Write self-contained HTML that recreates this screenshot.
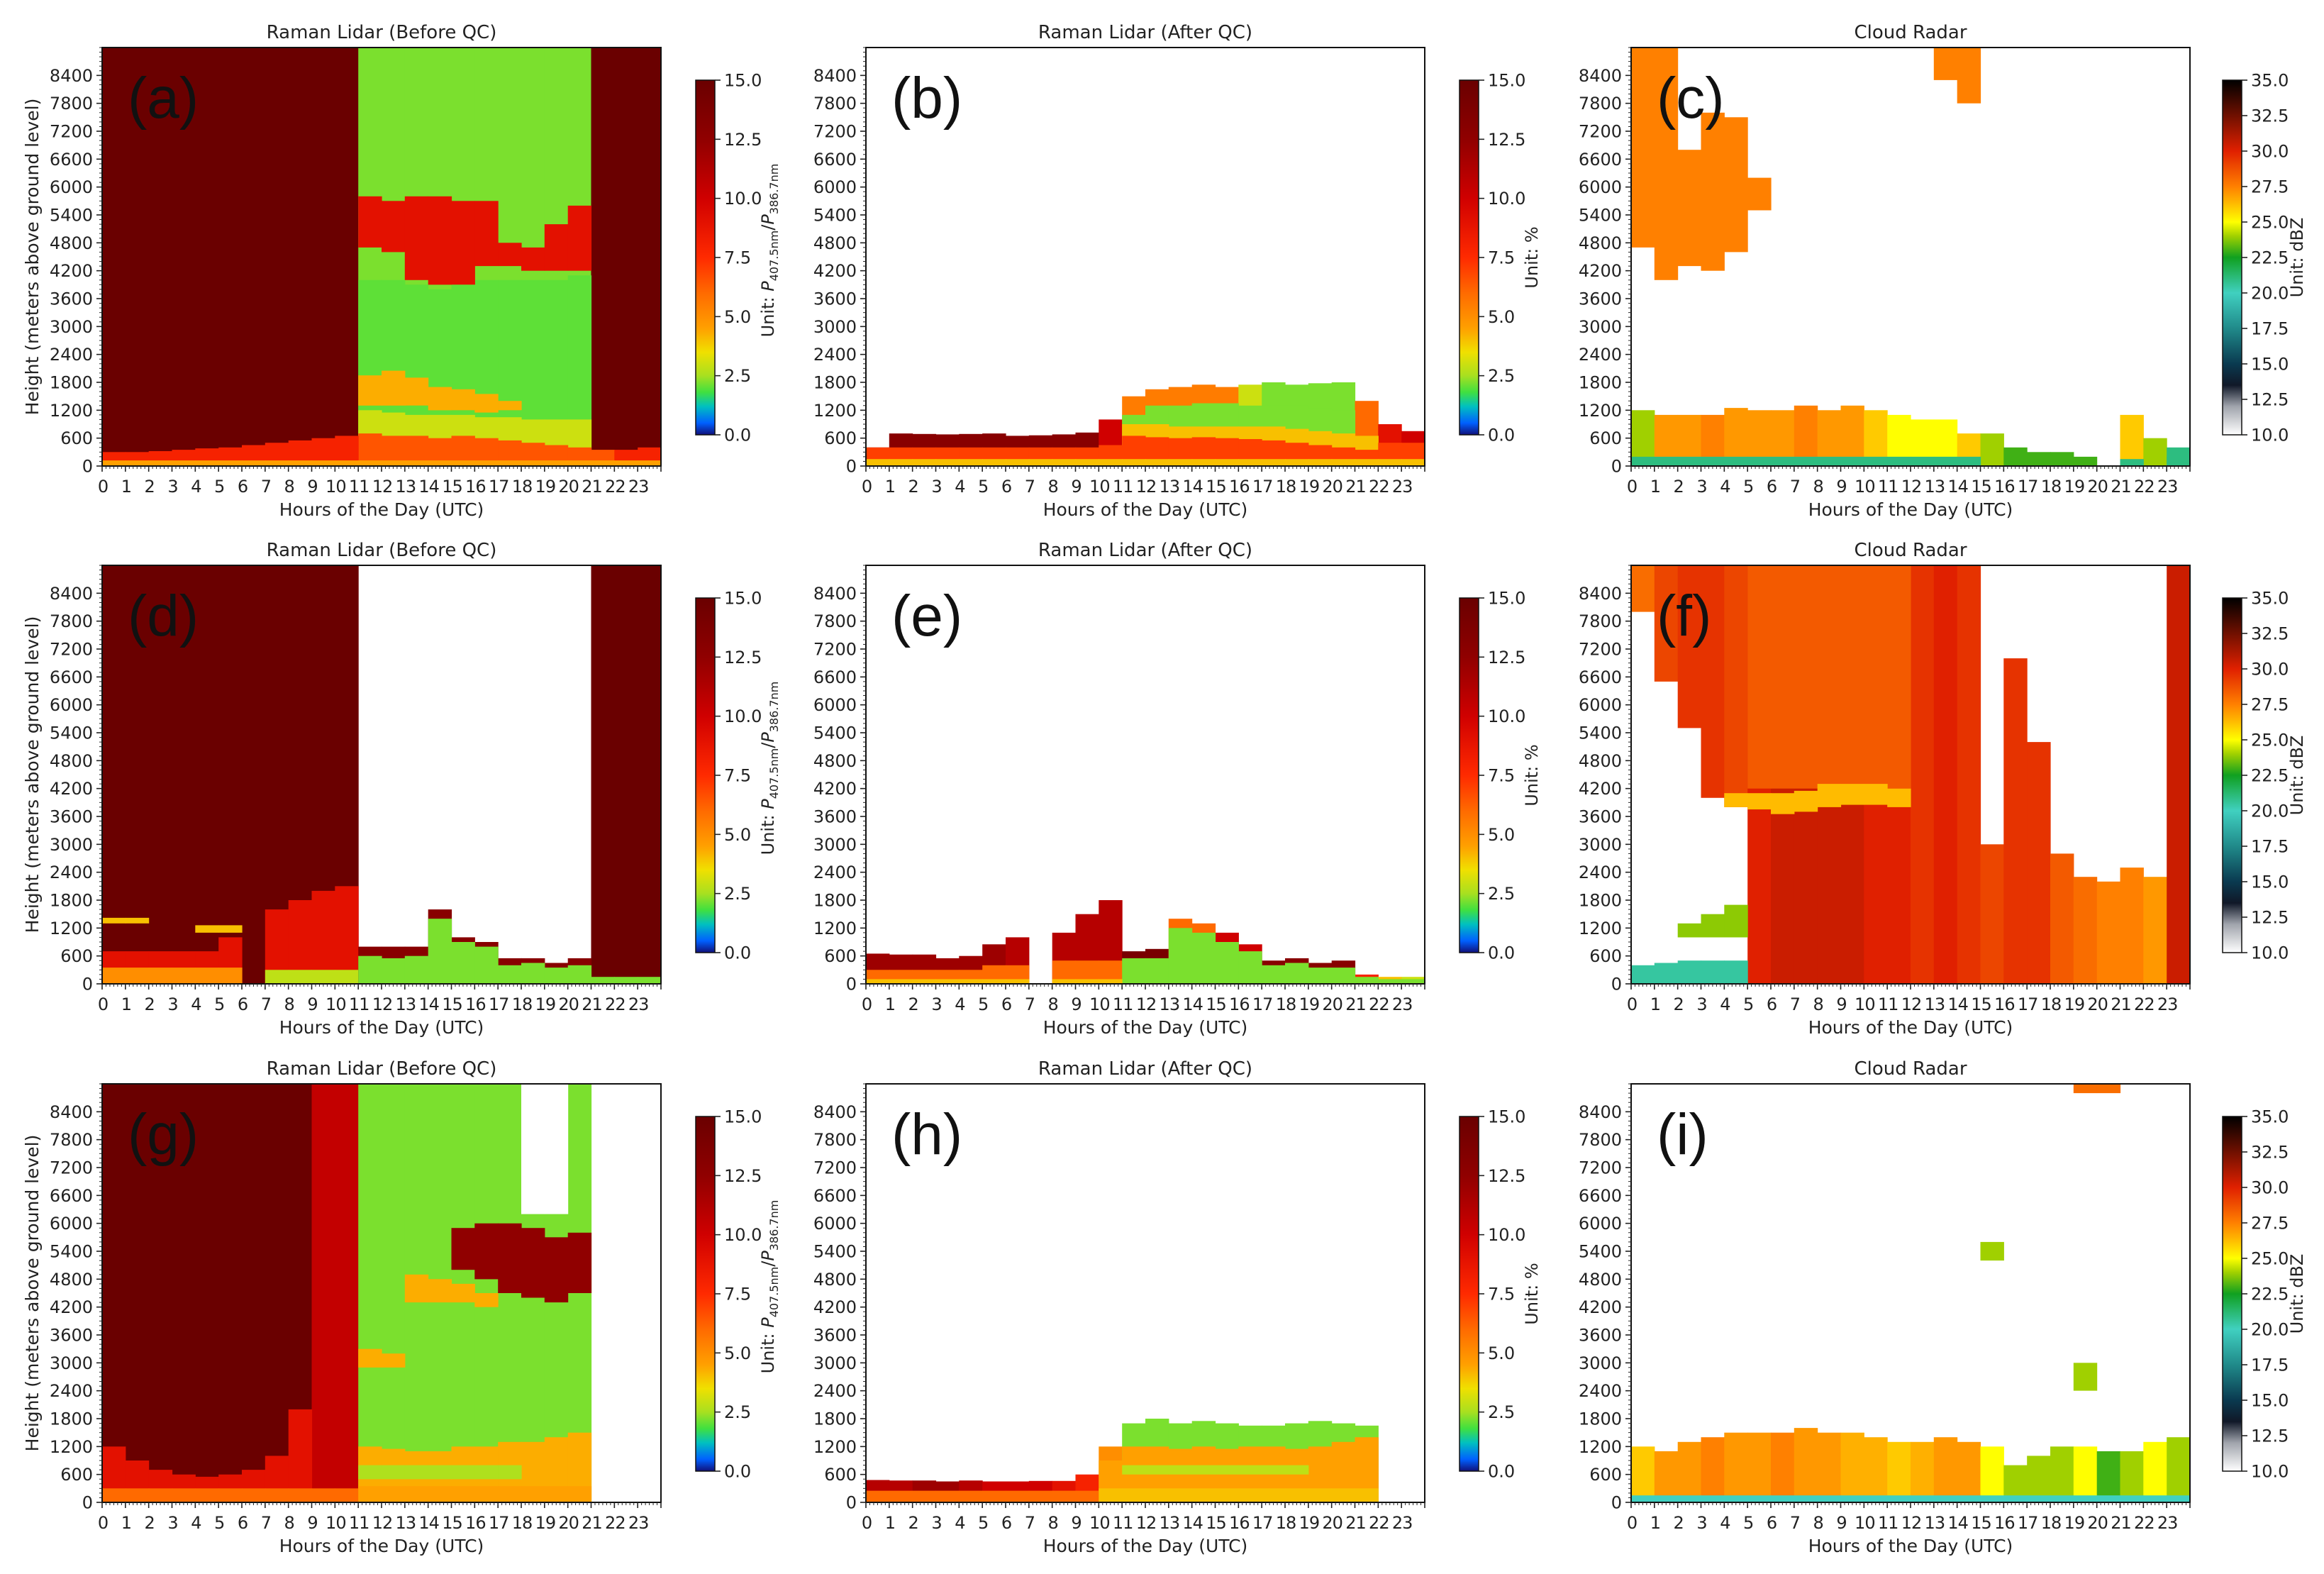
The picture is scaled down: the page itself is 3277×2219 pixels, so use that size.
<!DOCTYPE html>
<html><head><meta charset="utf-8"><title>Raman Lidar vs Cloud Radar</title>
<style>
html,body{margin:0;padding:0;background:#fff;}
svg{display:block;font-family:"DejaVu Sans","Liberation Sans",sans-serif;}
</style></head>
<body>
<svg id="fig" width="3277" height="2219" viewBox="0 0 3277 2219" xmlns="http://www.w3.org/2000/svg"></svg>
<script>
// ---------- data (hourly columns, index = hour 0..23; N = no data) ----------
const N = null;
const yTicks = [0,600,1200,1800,2400,3000,3600,4200,4800,5400,6000,6600,7200,7800,8400];
const xTicks = [0,1,2,3,4,5,6,7,8,9,10,11,12,13,14,15,16,17,18,19,20,21,22,23];
const lidarCbTicks = [0,2.5,5,7.5,10,12.5,15];
const radarCbTicks = [10,12.5,15,17.5,20,22.5,25,27.5,30,32.5,35];
const panelLetters = ["(a)","(b)","(c)","(d)","(e)","(f)","(g)","(h)","(i)"];
const panelTitles = ["Raman Lidar (Before QC)","Raman Lidar (After QC)","Cloud Radar"];

// Panel a
const aL1Hi = [9000,9000,9000,9000,9000,9000,9000,9000,9000,9000,9000,9000,9000,9000,9000,9000,9000,9000,9000,9000,9000,9000,9000,9000];
const aL1V  = [15,15,15,15,15,15,15,15,15,15,15,2.2,2.2,2.2,2.2,2.2,2.2,2.2,2.2,2.2,2.2,15,15,15];
const aL2Lo = [N,N,N,N,N,N,N,N,N,N,N,4700,4600,4000,3900,3900,4300,4300,4200,4200,4200,N,N,N];
const aL2Hi = [N,N,N,N,N,N,N,N,N,N,N,5800,5700,5800,5800,5700,5700,4800,4700,5200,5600,N,N,N];
const aL3Hi = [N,N,N,N,N,N,N,N,N,N,N,4000,4000,3900,3800,3900,4000,4000,4000,4000,4100,N,N,N];
const aL4Lo = [N,N,N,N,N,N,N,N,N,N,N,1300,1300,1300,1200,1200,1150,1200,N,N,N,N,N,N];
const aL4Hi = [N,N,N,N,N,N,N,N,N,N,N,1950,2050,1900,1700,1650,1550,1400,N,N,N,N,N,N];
const aL5Hi = [N,N,N,N,N,N,N,N,N,N,N,1200,1150,1100,1100,1100,1050,1050,1000,1000,1000,N,N,N];
const aL6Hi = [N,N,N,N,N,N,N,N,N,N,N,700,650,650,600,650,600,550,500,450,400,350,N,N];
const aL7Hi = [300,300,320,350,380,400,450,500,550,600,650,N,N,N,N,N,N,N,N,N,N,N,350,400];
const aL8Hi = [120,120,120,120,120,120,120,120,120,120,120,120,120,120,120,120,120,120,120,120,120,120,120,120];

// Panel b
const bL1Hi = [400,700,690,680,690,700,650,660,680,720,1000,1500,1650,1700,1750,1700,1750,1800,1750,1780,1800,1400,900,750];
const bL1V  = [13,13,13,13,13,13,13,13,13,13,10,5.5,5.5,5.5,5.5,5.5,3,2.2,2.2,2.2,2.2,6,9,10];
const bL2Hi = [N,N,N,N,N,N,N,N,N,N,N,1100,1300,1300,1350,1350,1300,1300,1300,1250,1200,N,N,N];
const bL3Hi = [N,N,N,N,N,N,N,N,N,N,N,900,900,850,850,850,850,850,800,750,700,650,N,N];
const bL4Hi = [400,400,400,400,400,400,400,400,400,400,450,650,620,600,620,600,580,550,500,450,400,350,500,500];
const bL5Hi = [150,150,150,150,150,150,150,150,150,150,150,150,150,150,150,150,150,150,150,150,150,150,150,150];

// Panel c
const cL1Lo = [4700,4000,4300,4200,4600,5500,N,N,N,N,N,N,N,N,N,N,N,N,N,N,N,N,N,N];
const cL1Hi = [9000,9000,6800,7600,7500,6200,N,N,N,N,N,N,N,N,N,N,N,N,N,N,N,N,N,N];
const cL2Lo = [N,N,N,N,N,N,N,N,N,N,N,N,N,8300,7800,N,N,N,N,N,N,N,N,N];
const cL2Hi = [N,N,N,N,N,N,N,N,N,N,N,N,N,9000,9000,N,N,N,N,N,N,N,N,N];
const cL3Hi = [1200,1100,1100,1100,1250,1200,1200,1300,1200,1300,1200,1100,1000,1000,700,700,400,300,300,200,N,1100,600,400];
const cL3V  = [24,27,27,27.5,27,27,27,27.5,27,27,26,25,25,25,26,24,23,23,23,23,23,26,24,21];
const cL4Hi = [200,200,200,200,200,200,200,200,200,200,200,200,200,200,200,N,N,N,N,N,N,150,N,200];

// Panel d
const dL1V  = [15,15,15,15,15,15,15,15,15,15,15,N,N,N,N,N,N,N,N,N,N,15,15,15];
const dL2Hi = [700,700,700,700,700,1000,N,1600,1800,2000,2100,N,N,N,N,N,N,N,N,N,N,N,N,N];
const dL3Hi = [350,350,350,350,350,350,N,300,300,300,300,N,N,N,N,N,N,N,N,N,N,N,N,N];
const dL3V  = [5,5,5,5,5,5,N,2.8,2.8,2.8,2.8,N,N,N,N,N,N,N,N,N,N,N,N,N];
const dL4Lo = [1300,1300,N,N,1100,1100,N,N,N,N,N,N,N,N,N,N,N,N,N,N,N,N,N,N];
const dL4Hi = [1420,1420,N,N,1260,1260,N,N,N,N,N,N,N,N,N,N,N,N,N,N,N,N,N,N];
const dL5Hi = [N,N,N,N,N,N,N,N,N,N,N,800,800,800,1600,1000,900,550,550,450,550,N,N,N];
const dL6Hi = [N,N,N,N,N,N,N,N,N,N,N,600,550,600,1400,900,800,400,450,350,400,150,150,150];

// Panel e
const eL1Hi = [650,630,630,550,600,850,1000,N,1100,1500,1800,700,750,1400,1300,1100,850,500,550,450,500,200,150,150];
const eL1V  = [12,12,12,12,12,12,11,N,11,11,11,14,14,6,6,10,10,13,13,13,13,8,4,3];
const eL2Hi = [300,300,300,300,300,400,400,N,500,500,500,N,N,N,N,N,N,N,N,N,N,N,N,N];
const eL3Hi = [N,N,N,N,N,N,N,N,N,N,N,550,550,1200,1100,900,700,400,450,350,350,150,100,100];
const eL4Hi = [100,100,100,100,100,100,100,N,100,100,100,N,N,N,N,N,N,N,N,N,N,N,N,N];

// Panel f
const fL1Lo = [8000,6500,5500,4000,3800,0,0,0,0,0,0,0,0,0,0,0,0,0,0,0,0,0,0,0];
const fL1Hi = [9000,9000,9000,9000,9000,9000,9000,9000,9000,9000,9000,9000,9000,9000,9000,3000,7000,5200,2800,2300,2200,2500,2300,9000];
const fL1V  = [28,29,29.5,29.5,29,30,30.5,30.5,30.5,30.5,30,30,29.5,30,29.5,29,29.5,29.5,28.5,28,27.5,27.5,27,30.5];
const fL2Lo = [N,N,N,N,N,4200,4200,4200,4200,4200,4200,4200,N,N,N,N,N,N,N,N,N,N,N,N];
const fL2Hi = [N,N,N,N,N,9000,9000,9000,9000,9000,9000,9000,N,N,N,N,N,N,N,N,N,N,N,N];
const fL3Lo = [N,N,N,N,3800,3750,3650,3700,3800,3850,3850,3800,N,N,N,N,N,N,N,N,N,N,N,N];
const fL3Hi = [N,N,N,N,4100,4100,4100,4150,4300,4300,4300,4200,N,N,N,N,N,N,N,N,N,N,N,N];
const fL4Hi = [400,450,500,500,500,N,N,N,N,N,N,N,N,N,N,N,N,N,N,N,N,N,N,N];
const fL5Lo = [N,N,1000,1000,1000,N,N,N,N,N,N,N,N,N,N,N,N,N,N,N,N,N,N,N];
const fL5Hi = [N,N,1300,1500,1700,N,N,N,N,N,N,N,N,N,N,N,N,N,N,N,N,N,N,N];

// Panel g
const gL1V  = [15,15,15,15,15,15,15,15,15,10.5,10.5,2.2,2.2,2.2,2.2,2.2,2.2,2.2,2.2,2.2,2.2,N,N,N];
const gL2Hi = [1200,900,700,600,550,600,700,1000,2000,N,N,N,N,N,N,N,N,N,N,N,N,N,N,N];
const gL3Lo = [N,N,N,N,N,N,N,N,N,N,N,N,N,N,N,N,N,N,6200,6200,N,N,N,N];
const gL4Lo = [N,N,N,N,N,N,N,N,N,N,N,N,N,N,N,5000,4800,4500,4400,4300,4500,N,N,N];
const gL4Hi = [N,N,N,N,N,N,N,N,N,N,N,N,N,N,N,5900,6000,6000,5900,5700,5800,N,N,N];
const gL5Lo = [N,N,N,N,N,N,N,N,N,N,N,2900,2900,4300,4300,4300,4200,N,N,N,N,N,N,N];
const gL5Hi = [N,N,N,N,N,N,N,N,N,N,N,3300,3200,4900,4800,4700,4500,N,N,N,N,N,N,N];
const gL6Hi = [N,N,N,N,N,N,N,N,N,N,N,1200,1150,1100,1100,1200,1200,1300,1300,1400,1500,N,N,N];
const gL7Lo = [N,N,N,N,N,N,N,N,N,N,N,500,500,500,500,500,500,500,N,N,N,N,N,N];
const gL7Hi = [N,N,N,N,N,N,N,N,N,N,N,800,800,800,800,800,800,800,N,N,N,N,N,N];
const gL8Hi = [300,300,300,300,300,300,300,300,300,300,300,350,350,350,350,350,350,350,350,350,350,N,N,N];
const gL8V  = [6,6,6,6,6,6,6,6,6,6,6,4.5,4.5,4.5,4.5,4.5,4.5,4.5,4.5,4.5,4.5,N,N,N];

// Panel h
const hL1Hi = [480,470,470,450,470,450,450,460,460,600,1200,1700,1800,1700,1750,1700,1650,1650,1700,1750,1700,1650,N,N];
const hL1V  = [11,11,12,12,11,10,10,10,9,8,5,2.2,2.2,2.2,2.2,2.2,2.2,2.2,2.2,2.2,2.2,2.2,N,N];
const hL2Hi = [N,N,N,N,N,N,N,N,N,N,900,1200,1200,1150,1200,1150,1200,1200,1150,1200,1300,1400,N,N];
const hL3Lo = [N,N,N,N,N,N,N,N,N,N,N,600,600,600,600,600,600,600,600,N,N,N,N,N];
const hL3Hi = [N,N,N,N,N,N,N,N,N,N,N,800,800,800,800,800,800,800,800,N,N,N,N,N];
const hL4Hi = [250,250,250,250,250,250,250,250,250,250,300,300,300,300,300,300,300,300,300,300,300,300,N,N];
const hL4V  = [6,6,6,6,6,6,6,6,6,6,4,4,4,4,4,4,4,4,4,4,4,4,N,N];

// Panel i
const iL1Hi = [1200,1100,1300,1400,1500,1500,1500,1600,1500,1500,1400,1300,1300,1400,1300,1200,800,1000,1200,1200,1100,1100,1300,1400];
const iL1V  = [26,27,27,27.5,27,27,27.5,27,27,26.5,26.5,26,26.5,27,27,25,24,24,24,25,23,24,25,24];
const iL2Hi = [150,150,150,150,150,150,150,150,150,150,150,150,150,150,150,150,150,150,150,150,150,150,150,150];
const iL4Lo = [N,N,N,N,N,N,N,N,N,N,N,N,N,N,N,N,N,N,N,8800,8800,N,N,N];
const iL4Hi = [N,N,N,N,N,N,N,N,N,N,N,N,N,N,N,N,N,N,N,9000,9000,N,N,N];
const iL5Lo = [N,N,N,N,N,N,N,N,N,N,N,N,N,N,N,5200,N,N,N,2400,N,N,N,N];
const iL5Hi = [N,N,N,N,N,N,N,N,N,N,N,N,N,N,N,5600,N,N,N,3000,N,N,N,N];

// wiring: [lo, hi, value] per layer, drawn in order
const layersA = [[0,aL1Hi,aL1V],[0,aL3Hi,2.0],[aL2Lo,aL2Hi,9],[0,aL5Hi,3.0],[aL4Lo,aL4Hi,4.3],[0,aL6Hi,6.5],[0,aL7Hi,8],[0,aL8Hi,4.5]];
const layersB = [[0,bL1Hi,bL1V],[0,bL2Hi,2.2],[0,bL3Hi,4],[0,bL4Hi,7],[0,bL5Hi,4]];
const layersC = [[cL1Lo,cL1Hi,27.5],[cL2Lo,cL2Hi,27.5],[0,cL3Hi,cL3V],[0,cL4Hi,21]];
const layersD = [[0,aL1Hi,dL1V],[0,dL2Hi,9],[0,dL3Hi,dL3V],[dL4Lo,dL4Hi,4],[0,dL5Hi,13],[0,dL6Hi,2.2]];
const layersE = [[0,eL1Hi,eL1V],[0,eL2Hi,6],[0,eL3Hi,2.2],[0,eL4Hi,4]];
const layersF = [[fL1Lo,fL1Hi,fL1V],[fL2Lo,fL2Hi,28.5],[fL3Lo,fL3Hi,26.3],[0,fL4Hi,20.5],[fL5Lo,fL5Hi,23.8]];
const layersG = [[0,aL1Hi,gL1V],[0,gL2Hi,9],[gL3Lo,aL1Hi,'w'],[gL4Lo,gL4Hi,12.5],[gL5Lo,gL5Hi,4.3],[0,gL6Hi,4.3],[gL7Lo,gL7Hi,2.6],[0,gL8Hi,gL8V]];
const layersH = [[0,hL1Hi,hL1V],[0,hL2Hi,4.5],[hL3Lo,hL3Hi,2.8],[0,hL4Hi,hL4V]];
const layersI = [[0,iL1Hi,iL1V],[0,iL2Hi,20],[iL4Lo,iL4Hi,28],[iL5Lo,iL5Hi,24]];

// ---------- layout / colormaps ----------
const colX = [144,1221,2300], rowY = [67,797,1528], PW = 788, PH = 590, YMAX = 9000;
const lidarStops = [[0,'#10107a'],[0.5,'#0060ff'],[1.2,'#00c0c0'],[1.8,'#40e040'],[2.5,'#a8e020'],[3.5,'#f0e000'],[4.5,'#ffa000'],[6,'#ff6a00'],[7.5,'#ff2a00'],[10,'#d00000'],[12.5,'#900000'],[15,'#6a0000']];
const radarStops = [[10,'#ffffff'],[12,'#a0a4ac'],[13.5,'#101828'],[15,'#0a3a50'],[17.5,'#208a8a'],[20,'#40d0c0'],[22.5,'#10a020'],[24,'#a0d000'],[25,'#ffff00'],[26.5,'#ffb000'],[27.5,'#ff8000'],[30,'#e02000'],[32.5,'#701000'],[35,'#000000']];

function hex(c){return [parseInt(c.slice(1,3),16),parseInt(c.slice(3,5),16),parseInt(c.slice(5,7),16)];}
function cmap(stops,v){
  if(v<=stops[0][0]) return stops[0][1];
  for(let i=1;i<stops.length;i++){
    if(v<=stops[i][0]){
      const t=(v-stops[i-1][0])/(stops[i][0]-stops[i-1][0]);
      const a=hex(stops[i-1][1]), b=hex(stops[i][1]);
      return 'rgb('+a.map((x,k)=>Math.round(x+(b[k]-x)*t)).join(',')+')';
    }
  }
  return stops[stops.length-1][1];
}
const NS='http://www.w3.org/2000/svg';
const svg=document.getElementById('fig');
function mk(tag,attrs,parent){const e=document.createElementNS(NS,tag);for(const k in attrs)e.setAttribute(k,attrs[k]);(parent||svg).appendChild(e);return e;}
function at(v,i){return Array.isArray(v)?v[i]:v;}

const panels = [
  {L:layersA,r:0,c:0,st:lidarStops},{L:layersB,r:0,c:1,st:lidarStops},{L:layersC,r:0,c:2,st:radarStops},
  {L:layersD,r:1,c:0,st:lidarStops},{L:layersE,r:1,c:1,st:lidarStops},{L:layersF,r:1,c:2,st:radarStops},
  {L:layersG,r:2,c:0,st:lidarStops},{L:layersH,r:2,c:1,st:lidarStops},{L:layersI,r:2,c:2,st:radarStops}
];

const defs=mk('defs',{});
[['lidarGrad',lidarStops,0,15],['radarGrad',radarStops,10,35]].forEach(([id,st,lo,hi])=>{
  const g=mk('linearGradient',{id:id,x1:0,y1:1,x2:0,y2:0},defs);
  st.forEach(s=>mk('stop',{offset:((s[0]-lo)/(hi-lo)).toFixed(4),'stop-color':s[1]},g));
});

panels.forEach((p,pi)=>{
  const L=colX[p.c], T=rowY[p.r];
  const xs=t=>L+t/24*PW, ys=h=>T+PH-h/YMAX*PH;
  const g=mk('g',{});
  
  
  const hm=mk('g',{},g);
  
  
  p.L.forEach(([lo,hi,v])=>{
    for(let i=0;i<24;i++){
      const h1=at(hi,i), h0=at(lo,i), val=at(v,i);
      if(h1==null||h0==null||val==null) continue;
      const fill = val==='w' ? '#ffffff' : cmap(p.st,val);
      const r=mk('rect',{x:xs(i).toFixed(1),y:ys(h1).toFixed(1),width:(xs(i+1)-xs(i)+0.6).toFixed(1),height:Math.max(0,ys(h0)-ys(h1)).toFixed(1),fill:fill},hm);
      
      
    }
  });
  const fr=mk('rect',{x:L,y:T,width:PW,height:PH,fill:'none',stroke:'#111',"stroke-width":2},g);
  
  
  for(let h=0;h<=YMAX;h+=100){const major=yTicks.includes(h);mk('line',{x1:L,x2:L-(major?8:4),y1:ys(h),y2:ys(h),stroke:'#222','stroke-width':major?1.6:1},g);}
  yTicks.forEach(h=>{const t=mk('text',{x:L-13,y:ys(h)+8.5,'font-size':24,'text-anchor':'end',fill:'#222'},g);t.textContent=h;
    
    });
  for(let k=0;k<=144;k++){const tt=k/6;const major=k%6===0;mk('line',{x1:xs(tt),x2:xs(tt),y1:T+PH,y2:T+PH+(major?8:4),stroke:'#222','stroke-width':major?1.6:1},g);}
  xTicks.forEach(t=>{const e=mk('text',{x:xs(t)+1,y:T+PH+37,'font-size':24,'text-anchor':'middle',fill:'#222','letter-spacing':'-1'},g);e.textContent=t;
    
    });
  const xl=mk('text',{x:L+PW/2,y:T+PH+70,'font-size':25,'text-anchor':'middle',fill:'#222'},g);xl.textContent='Hours of the Day (UTC)';
  
  
  const ti=mk('text',{x:L+PW/2,y:T-13,'font-size':26,'text-anchor':'middle',fill:'#222'},g);ti.textContent=panelTitles[p.c];
  
  
  const le=mk('text',{x:L+36,y:T+99,'font-size':82,fill:'#111','font-family':'Liberation Sans, sans-serif'},g);le.textContent=panelLetters[pi];
  
  
  if(p.c===0){
    const yl=mk('text',{x:0,y:0,'font-size':25,'text-anchor':'middle',fill:'#222',transform:`translate(${L-90},${T+PH/2}) rotate(-90)`},g);
    yl.textContent='Height (meters above ground level)';
    
    
  }
  const radar=p.c===2;
  const cbx=L+(radar?834:837), cbt=T+46, cbh=500, cbw=27;
  const cb=mk('rect',{x:cbx,y:cbt,width:cbw,height:cbh,fill:radar?'url(#radarGrad)':'url(#lidarGrad)',stroke:'#111','stroke-width':1.5},g);
  
  
  const ticks=radar?radarCbTicks:lidarCbTicks, lo=radar?10:0, hi=radar?35:15;
  ticks.forEach(v=>{const yy=cbt+cbh-(v-lo)/(hi-lo)*cbh;
    mk('line',{x1:cbx+cbw,x2:cbx+cbw+8,y1:yy,y2:yy,stroke:'#222','stroke-width':1.6},g);
    const t=mk('text',{x:cbx+cbw+13,y:yy+8.5,'font-size':24,fill:'#222'},g);t.textContent=v.toFixed(1);
    
    });
  const cl=mk('text',{x:0,y:0,'font-size':24,'text-anchor':'middle',fill:'#222',transform:`translate(${L+947},${cbt+cbh/2+(p.c===0?-10:0)}) rotate(-90)`},g);
  
  
  if(p.c===0){
    cl.appendChild(document.createTextNode('Unit: '));
    const a=mk('tspan',{'font-style':'italic'},cl);a.textContent='P';
    const b=mk('tspan',{'font-size':16,dy:6},cl);b.textContent='407.5nm';
    const c=mk('tspan',{dy:-6},cl);c.textContent='/';
    const d=mk('tspan',{'font-style':'italic'},cl);d.textContent='P';
    const e=mk('tspan',{'font-size':16,dy:6},cl);e.textContent='386.7nm';
  } else cl.textContent = radar ? 'Unit: dBZ' : 'Unit: %';
});
</script>
</body></html>
